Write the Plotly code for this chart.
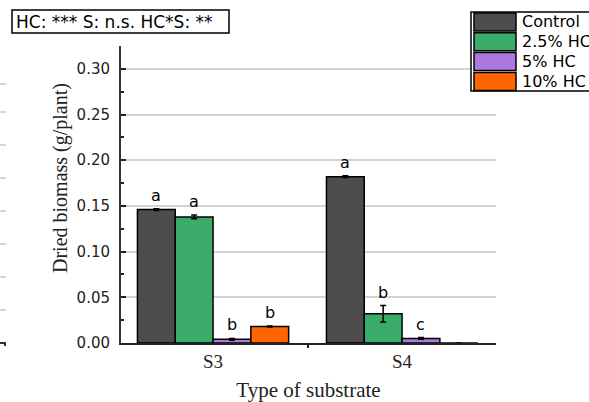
import plotly.graph_objects as go

# ---- data ----
substrates = ["S3", "S4"]
treatments = ["Control", "2.5% HC", "5% HC", "10% HC"]
biomass = {
    "Control": [0.146, 0.182],
    "2.5% HC": [0.138, 0.032],
    "5% HC": [0.004, 0.005],
    "10% HC": [0.018, 0.0],
}
errors = {
    "Control": [0.001, 0.001],
    "2.5% HC": [0.002, 0.009],
    "5% HC": [0.001, 0.001],
    "10% HC": [0.0005, 0.0],
}
letters = {
    "Control": ["a", "a"],
    "2.5% HC": ["a", "b"],
    "5% HC": ["b", "c"],
    "10% HC": ["b", ""],
}
stats_text = "HC: *** S: n.s. HC*S: **"
y_title = "Dried biomass (g/plant)"
x_title = "Type of substrate"
colors = ["#4d4d4d", "#3aab6b", "#ad79e0", "#ff6600"]

# ---- layout geometry (pixels) ----
W, H = 589, 402
ML, MR, MT, MB = 121, 93, 46, 59
PW, PH = W - ML - MR, H - MT - MB


def px(x):
    return (x - ML) / PW


def py(y):
    return (H - MB - y) / PH


SANS = "DejaVu Sans"
SERIF = "Liberation Serif"

fig = go.Figure()
for name, col in zip(treatments, colors):
    fig.add_trace(go.Bar(
        name=name, x=substrates, y=biomass[name],
        marker=dict(color=col, line=dict(color="black", width=1.5)),
        error_y=dict(type="data", array=errors[name], color="black",
                     thickness=1.5, width=3),
        showlegend=False,
    ))

annotations = []
shapes = []

# significance letters above each bar (group width 0.8 split into 4 bars)
n = len(treatments)
for j, name in enumerate(treatments):
    for i, lab in enumerate(letters[name]):
        if not lab:
            continue
        annotations.append(dict(
            x=i + (j - (n - 1) / 2) * 0.8 / n, xref="x",
            y=biomass[name][i] + errors[name][i], yref="y",
            text=lab, showarrow=False, yanchor="bottom", yshift=2,
            font=dict(family=SANS, size=16, color="black"),
        ))

# y-axis title, placed a little above the axis centre
annotations.append(dict(x=px(60), y=py(178), xref="paper", yref="paper",
                        text=y_title, textangle=-90, showarrow=False,
                        xanchor="center", yanchor="middle",
                        font=dict(family=SERIF, size=20, color="#222222")))

# statistics box
shapes.append(dict(type="rect", xref="paper", yref="paper",
                   x0=px(12), x1=px(229), y0=py(33), y1=py(10),
                   line=dict(color="black", width=1.5), fillcolor="white"))
annotations.append(dict(x=px(14), y=py(21.5), xref="paper", yref="paper",
                        text=stats_text, showarrow=False, xanchor="left",
                        yanchor="middle",
                        font=dict(family=SANS, size=17, color="black")))

# legend box
shapes.append(dict(type="rect", xref="paper", yref="paper",
                   x0=px(471), x1=px(620), y0=py(91), y1=py(12),
                   line=dict(color="black", width=1.5), fillcolor="white",
                   layer="above"))
for k, (name, col) in enumerate(zip(treatments, colors)):
    top = 13 + k * 19.8
    shapes.append(dict(type="rect", xref="paper", yref="paper",
                       x0=px(474), x1=px(516), y0=py(top + 18), y1=py(top),
                       line=dict(color="black", width=1.5), fillcolor=col,
                       layer="above"))
    annotations.append(dict(x=px(520), y=py(top + 9), xref="paper",
                            yref="paper", text=name, showarrow=False,
                            xanchor="left", yanchor="middle",
                            font=dict(family=SANS, size=16, color="black")))

# edge of the neighbouring panel on the left
for yy in [84, 112, 145, 178, 211, 244, 277, 310]:
    shapes.append(dict(type="line", xref="paper", yref="paper",
                       x0=px(0), x1=px(6), y0=py(yy), y1=py(yy),
                       line=dict(color="#c8c8c8", width=1.5)))
shapes.append(dict(type="line", xref="paper", yref="paper",
                   x0=px(0), x1=px(6), y0=py(343), y1=py(343),
                   line=dict(color="#333333", width=2)))
shapes.append(dict(type="line", xref="paper", yref="paper",
                   x0=px(5), x1=px(5), y0=py(343), y1=py(346),
                   line=dict(color="#333333", width=2)))

fig.update_layout(
    width=W, height=H,
    margin=dict(l=ML, r=MR, t=MT, b=MB, pad=0),
    paper_bgcolor="white", plot_bgcolor="white",
    barmode="group", bargap=0.2, bargroupgap=0,
    annotations=annotations, shapes=shapes,
    xaxis=dict(
        type="category", range=[-0.487, 1.497],
        showline=True, linecolor="#222222", linewidth=1.5,
        ticks="outside", tickson="boundaries", ticklen=3, tickwidth=1.5,
        tickcolor="#222222", showgrid=False, zeroline=False,
        tickfont=dict(family=SERIF, size=19, color="#222222"),
        title=dict(text=x_title, standoff=14,
                   font=dict(family=SERIF, size=21, color="#222222")),
        automargin=False,
    ),
    yaxis=dict(
        range=[0, 0.325], dtick=0.05, tick0=0, tickformat=".2f",
        showline=True, linecolor="#333333", linewidth=2,
        ticks="inside", ticklen=5, tickwidth=1.5, tickcolor="#222222",
        minor=dict(ticks="inside", ticklen=3, dtick=0.025,
                   tickcolor="#222222", showgrid=False),
        showgrid=True, gridcolor="#d2d2d2", gridwidth=1.5,
        zeroline=False, ticklabelstandoff=6,
        tickfont=dict(family=SANS, size=15, color="#222222"),
        automargin=False,
    ),
)

fig.write_html("out.html")
